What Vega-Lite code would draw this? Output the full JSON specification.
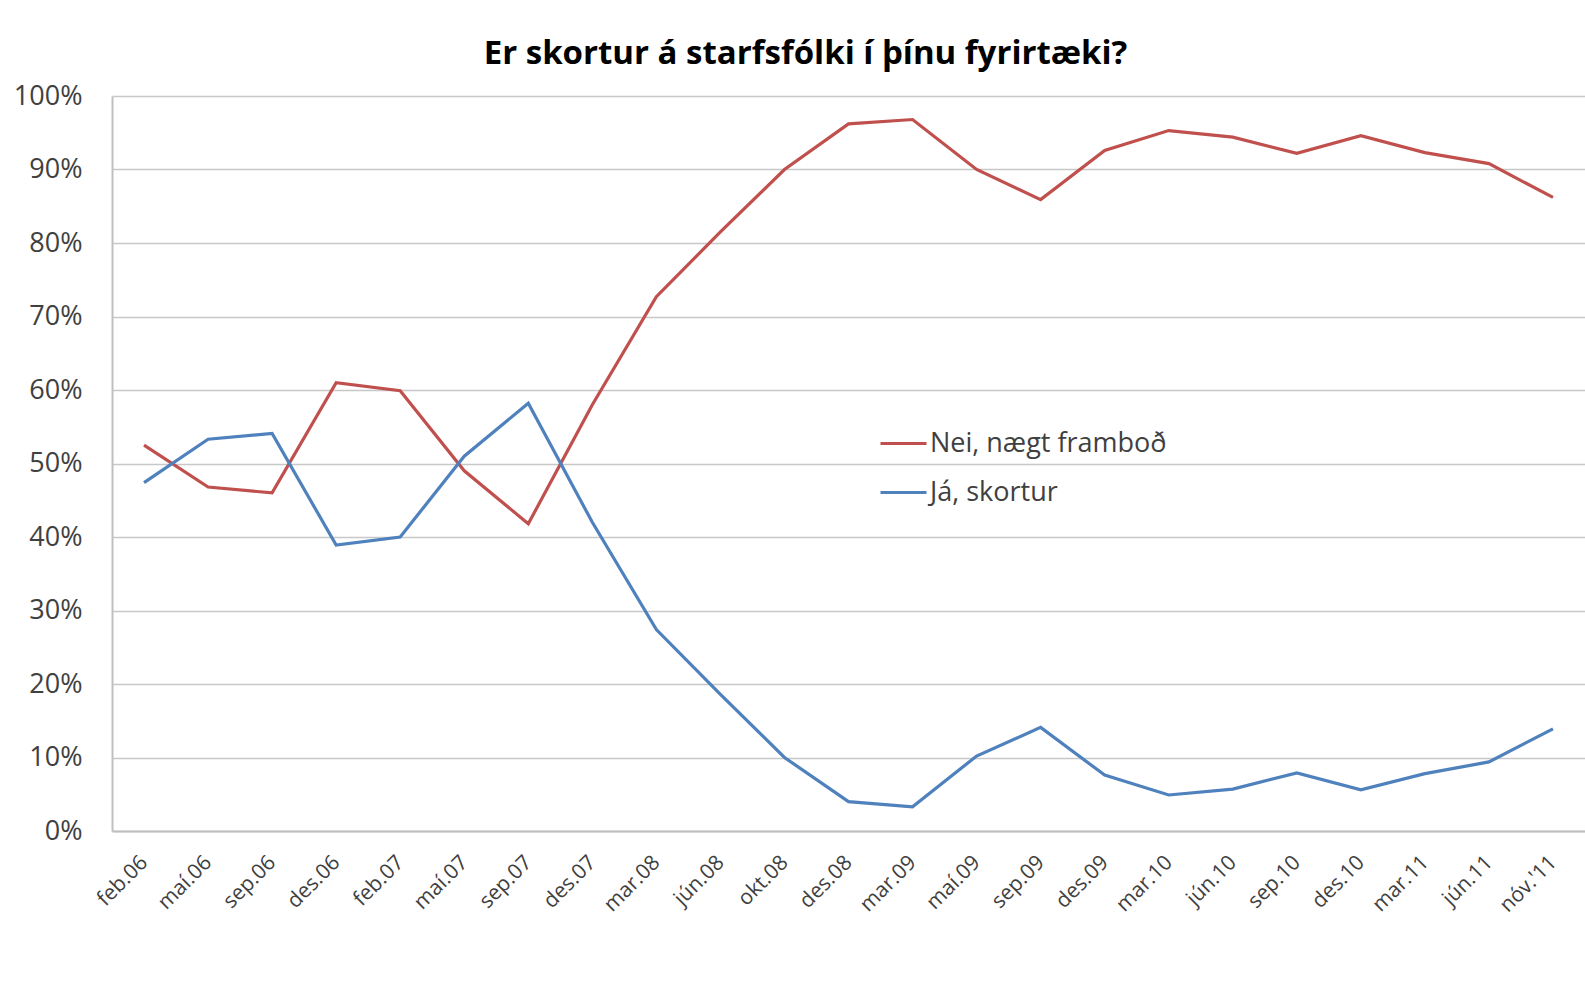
{
  "$schema": "https://vega.github.io/schema/vega-lite/v6.json",
  "autosize": {"type": "none"},
  "padding": {"left": 112, "top": 96, "right": 0, "bottom": 172},
  "width": 1473,
  "height": 735,
  "background": "white",
  "title": {
    "text": "Er skortur á starfsfólki í þínu fyrirtæki?",
    "font": "Open Sans",
    "fontSize": 33,
    "fontWeight": "bold",
    "color": "#000000",
    "anchor": "middle",
    "dx": -43,
    "offset": 11
  },
  "data": {
    "values": [
      {"t": "feb.06", "s": "Nei, nægt framboð", "v": 0.525},
      {"t": "maí.06", "s": "Nei, nægt framboð", "v": 0.468},
      {"t": "sep.06", "s": "Nei, nægt framboð", "v": 0.460},
      {"t": "des.06", "s": "Nei, nægt framboð", "v": 0.610},
      {"t": "feb.07", "s": "Nei, nægt framboð", "v": 0.599},
      {"t": "maí.07", "s": "Nei, nægt framboð", "v": 0.490},
      {"t": "sep.07", "s": "Nei, nægt framboð", "v": 0.418},
      {"t": "des.07", "s": "Nei, nægt framboð", "v": 0.580},
      {"t": "mar.08", "s": "Nei, nægt framboð", "v": 0.727},
      {"t": "jún.08", "s": "Nei, nægt framboð", "v": 0.815},
      {"t": "okt.08", "s": "Nei, nægt framboð", "v": 0.900},
      {"t": "des.08", "s": "Nei, nægt framboð", "v": 0.962},
      {"t": "mar.09", "s": "Nei, nægt framboð", "v": 0.968},
      {"t": "maí.09", "s": "Nei, nægt framboð", "v": 0.900},
      {"t": "sep.09", "s": "Nei, nægt framboð", "v": 0.859},
      {"t": "des.09", "s": "Nei, nægt framboð", "v": 0.926},
      {"t": "mar.10", "s": "Nei, nægt framboð", "v": 0.953},
      {"t": "jún.10", "s": "Nei, nægt framboð", "v": 0.944},
      {"t": "sep.10", "s": "Nei, nægt framboð", "v": 0.922},
      {"t": "des.10", "s": "Nei, nægt framboð", "v": 0.946},
      {"t": "mar.11", "s": "Nei, nægt framboð", "v": 0.923},
      {"t": "jún.11", "s": "Nei, nægt framboð", "v": 0.908},
      {"t": "nóv.'11", "s": "Nei, nægt framboð", "v": 0.862},
      {"t": "feb.06", "s": "Já, skortur", "v": 0.474},
      {"t": "maí.06", "s": "Já, skortur", "v": 0.533},
      {"t": "sep.06", "s": "Já, skortur", "v": 0.541},
      {"t": "des.06", "s": "Já, skortur", "v": 0.389},
      {"t": "feb.07", "s": "Já, skortur", "v": 0.400},
      {"t": "maí.07", "s": "Já, skortur", "v": 0.510},
      {"t": "sep.07", "s": "Já, skortur", "v": 0.582},
      {"t": "des.07", "s": "Já, skortur", "v": 0.420},
      {"t": "mar.08", "s": "Já, skortur", "v": 0.274},
      {"t": "jún.08", "s": "Já, skortur", "v": 0.186},
      {"t": "okt.08", "s": "Já, skortur", "v": 0.100},
      {"t": "des.08", "s": "Já, skortur", "v": 0.040},
      {"t": "mar.09", "s": "Já, skortur", "v": 0.033},
      {"t": "maí.09", "s": "Já, skortur", "v": 0.102},
      {"t": "sep.09", "s": "Já, skortur", "v": 0.141},
      {"t": "des.09", "s": "Já, skortur", "v": 0.076},
      {"t": "mar.10", "s": "Já, skortur", "v": 0.049},
      {"t": "jún.10", "s": "Já, skortur", "v": 0.057},
      {"t": "sep.10", "s": "Já, skortur", "v": 0.079},
      {"t": "des.10", "s": "Já, skortur", "v": 0.056},
      {"t": "mar.11", "s": "Já, skortur", "v": 0.078},
      {"t": "jún.11", "s": "Já, skortur", "v": 0.094},
      {"t": "nóv.'11", "s": "Já, skortur", "v": 0.139}
    ]
  },
  "mark": {"type": "line", "strokeWidth": 3.2},
  "encoding": {
    "x": {
      "field": "t",
      "type": "nominal",
      "sort": null,
      "title": null,
      "axis": {
        "labelAngle": -45,
        "labelBaseline": "middle",
        "labelFont": "Open Sans",
        "labelFontSize": 21,
        "labelColor": "#404040",
        "labelPadding": 28,
        "ticks": false,
        "domainColor": "#bfbfbf",
        "domainWidth": 2,
        "grid": false
      }
    },
    "y": {
      "field": "v",
      "type": "quantitative",
      "title": null,
      "scale": {"domain": [0, 1], "nice": false},
      "axis": {
        "format": ".0%",
        "values": [0, 0.1, 0.2, 0.3, 0.4, 0.5, 0.6, 0.7, 0.8, 0.9, 1],
        "labelFont": "Open Sans",
        "labelFontSize": 27,
        "labelColor": "#404040",
        "labelPadding": 30,
        "ticks": false,
        "domainColor": "#bfbfbf",
        "domainWidth": 2,
        "grid": true,
        "gridColor": "#c8c8c8",
        "gridWidth": 1.5
      }
    },
    "color": {
      "field": "s",
      "type": "nominal",
      "title": null,
      "scale": {
        "domain": ["Nei, nægt framboð", "Já, skortur"],
        "range": ["#C0504D", "#4F81BD"]
      },
      "legend": {
        "orient": "none",
        "legendX": 767,
        "legendY": 323,
        "symbolType": "stroke",
        "symbolSize": 2116,
        "symbolStrokeWidth": 3,
        "labelFont": "Open Sans",
        "labelFontSize": 27,
        "labelColor": "#404040",
        "labelOffset": 2,
        "rowPadding": 11,
        "labelLimit": 400
      }
    }
  },
  "config": {"view": {"stroke": null}}
}
